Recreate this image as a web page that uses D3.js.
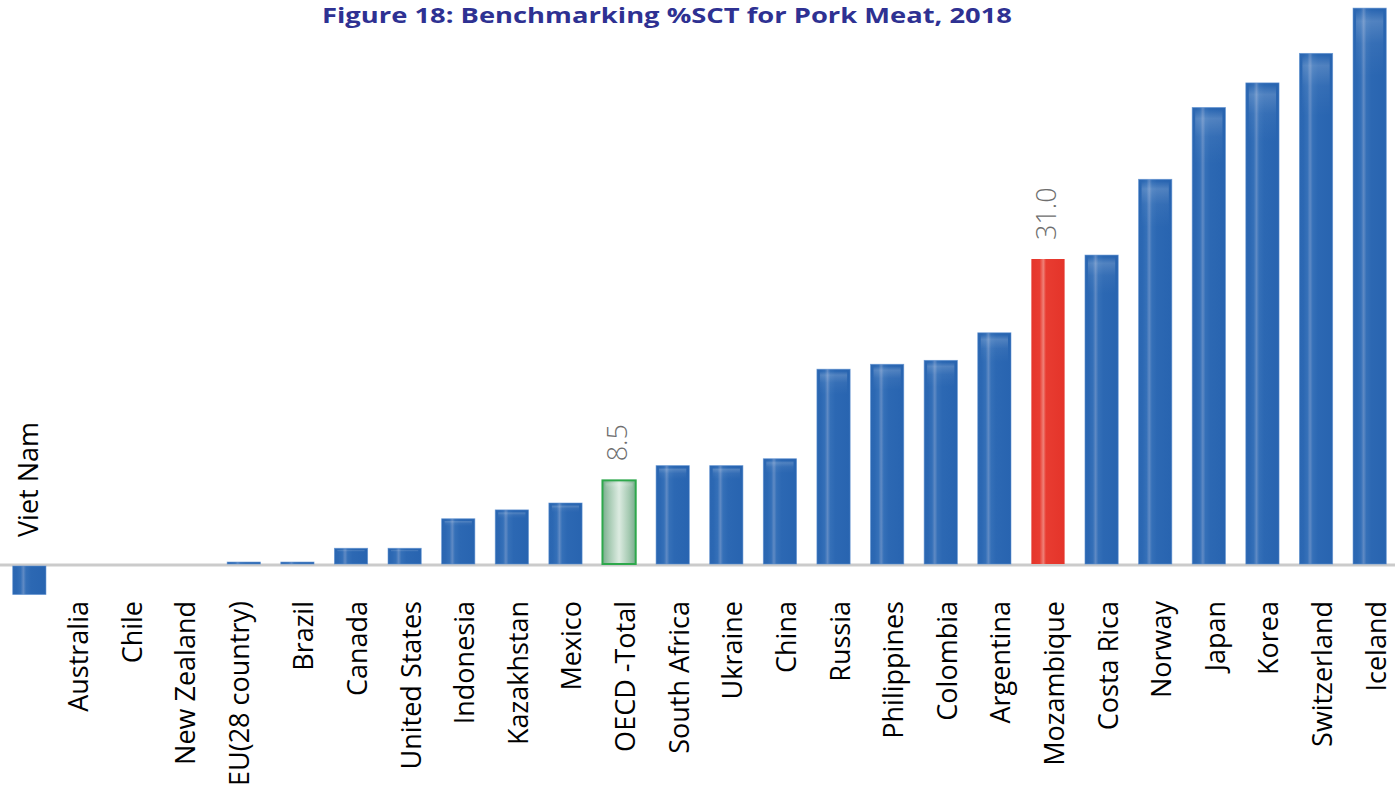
<!DOCTYPE html>
<html>
<head>
<meta charset="utf-8">
<script src="https://cdn.jsdelivr.net/npm/d3@7"></script>
<style>
  html, body { margin: 0; padding: 0; background: #ffffff; }
  svg { display: block; }
</style>
</head>
<body>
<svg id="chart" width="1395" height="796"></svg>
<script>
// %SCT by country, pork meat, 2018
const categories = [
  "Viet Nam", "Australia", "Chile", "New Zealand", "EU(28 country)", "Brazil",
  "Canada", "United States", "Indonesia", "Kazakhstan", "Mexico", "OECD -Total",
  "South Africa", "Ukraine", "China", "Russia", "Philippines", "Colombia",
  "Argentina", "Mozambique", "Costa Rica", "Norway", "Japan", "Korea",
  "Switzerland", "Iceland"
];
const values = [
  -2.9, 0, 0, 0, 0.2, 0.2,
  1.6, 1.6, 4.6, 5.5, 6.2, 8.5,
  10.0, 10.0, 10.7, 19.8, 20.3, 20.7,
  23.5, 31.0, 31.4, 39.1, 46.4, 48.9,
  51.9, 56.5
];
// bars that carry a value label, with their own fill
const benchmark = "OECD -Total";
const focus = "Mozambique";
const labelled = [benchmark, focus];
const title = "Figure 18: Benchmarking %SCT for Pork Meat, 2018";

const data = categories.map((c, i) => ({ name: c, value: values[i], i }));

const svg = d3.select("#chart");
const W = 1395;

const x = d3.scaleBand()
  .domain(categories)
  .range([2, 1397])
  .paddingInner(0.38)
  .paddingOuter(0.2);

// zero line sits at 565; 31.0 reaches 260
const y = d3.scaleLinear().domain([0, 31]).range([565, 260]);

const defs = svg.append("defs");

function grad(id, vertical, stops) {
  const g = defs.append("linearGradient").attr("id", id)
    .attr("x1", 0).attr("y1", 0)
    .attr("x2", vertical ? 0 : 1).attr("y2", vertical ? 1 : 0);
  stops.forEach(([o, c, a]) => g.append("stop").attr("offset", o)
    .attr("stop-color", c).attr("stop-opacity", a == null ? 1 : a));
}

grad("blueFill", false, [
  [0, "#2a66b1"], [0.12, "#2c68b3"], [0.24, "#3570b8"], [0.32, "#5f8ac4"],
  [0.4, "#3570b8"], [0.55, "#2c68b3"], [1, "#2864b0"]
]);
grad("gloss", true, [
  [0, "#ffffff", 0.0], [0.02, "#ffffff", 0.18], [0.06, "#ffffff", 0.05],
  [0.12, "#ffffff", 0.0], [1, "#ffffff", 0]
]);
grad("redFill", false, [
  [0, "#e5352a"], [0.25, "#e83c31"], [0.36, "#ef8077"], [0.44, "#e83c31"], [1, "#e4342a"]
]);
grad("greenFill", false, [
  [0, "#79ad8d"], [0.2, "#a4c9b1"], [0.5, "#dcebe1"], [0.8, "#a4c9b1"], [1, "#79ad8d"]
]);

// zero line
svg.append("line")
  .attr("x1", 0).attr("x2", W)
  .attr("y1", y(0)).attr("y2", y(0))
  .attr("stroke", "#cbcbcb")
  .attr("stroke-width", 3);

const bars = svg.append("g");

function fillFor(d) {
  if (d.name === focus) return "url(#redFill)";
  if (d.name === benchmark) return "url(#greenFill)";
  return "url(#blueFill)";
}

bars.selectAll("rect.bar")
  .data(data.filter(d => d.value !== 0))
  .join("rect")
  .attr("class", "bar")
  .attr("x", d => x(d.name))
  .attr("width", x.bandwidth())
  .attr("y", d => Math.min(y(d.value), y(0)) - (d.value > 0 ? 1 : -1))
  .attr("height", d => Math.abs(y(d.value) - y(0)))
  .attr("fill", fillFor)
  .attr("stroke", d => d.name === benchmark ? "#2ea84c" : (d.name === focus ? "none" : "#5b8fd0"))
  .attr("stroke-width", d => d.name === benchmark ? 2 : 0.8)
  .attr("stroke-opacity", d => d.name === benchmark ? 1 : 0.7);

// soft highlight along the top of the blue bars
bars.selectAll("rect.gloss")
  .data(data.filter(d => d.value > 0.5 && d.name !== focus))
  .join("rect")
  .attr("class", "gloss")
  .attr("x", d => x(d.name) + 3)
  .attr("width", x.bandwidth() - 6)
  .attr("y", d => y(d.value) + 1)
  .attr("height", d => y(0) - y(d.value) - 2)
  .attr("fill", "url(#gloss)")
  .style("pointer-events", "none");

// value labels
svg.append("g").selectAll("text")
  .data(data.filter(d => labelled.includes(d.name)))
  .join("text")
  .attr("transform", d => `translate(${x(d.name) + x.bandwidth() / 2 + 8},${y(d.value) - 20}) rotate(-90)`)
  .attr("text-anchor", "start")
  .attr("font-family", "'Open Sans', sans-serif")
  .attr("font-size", 27)
  .attr("font-weight", 300)
  .attr("fill", "#6e6e6e")
  .text(d => d.value.toFixed(1));

// category labels, rotated, hanging below the zero line (or above it for negatives)
svg.append("g").selectAll("text")
  .data(data)
  .join("text")
  .attr("transform", d => {
    const cx = x(d.name) + x.bandwidth() / 2;
    if (d.value < 0) return `translate(${cx + 9},537) rotate(-90)`;
    const dx = d.i <= 4 ? 5 : 16;
    return `translate(${cx + dx},601) rotate(-90)`;
  })
  .attr("text-anchor", d => d.value < 0 ? "start" : "end")
  .attr("font-family", "'Open Sans', sans-serif")
  .attr("font-size", 27)
  .attr("fill", "#000000")
  .text(d => d.name);

// title
svg.append("text")
  .attr("x", 667)
  .attr("y", 23)
  .attr("text-anchor", "middle")
  .attr("font-family", "'Open Sans', sans-serif")
  .attr("font-weight", 700)
  .attr("font-size", 21)
  .attr("fill", "#2e3192")
  .attr("textLength", 690)
  .attr("lengthAdjust", "spacingAndGlyphs")
  .text(title);
</script>
</body>
</html>
